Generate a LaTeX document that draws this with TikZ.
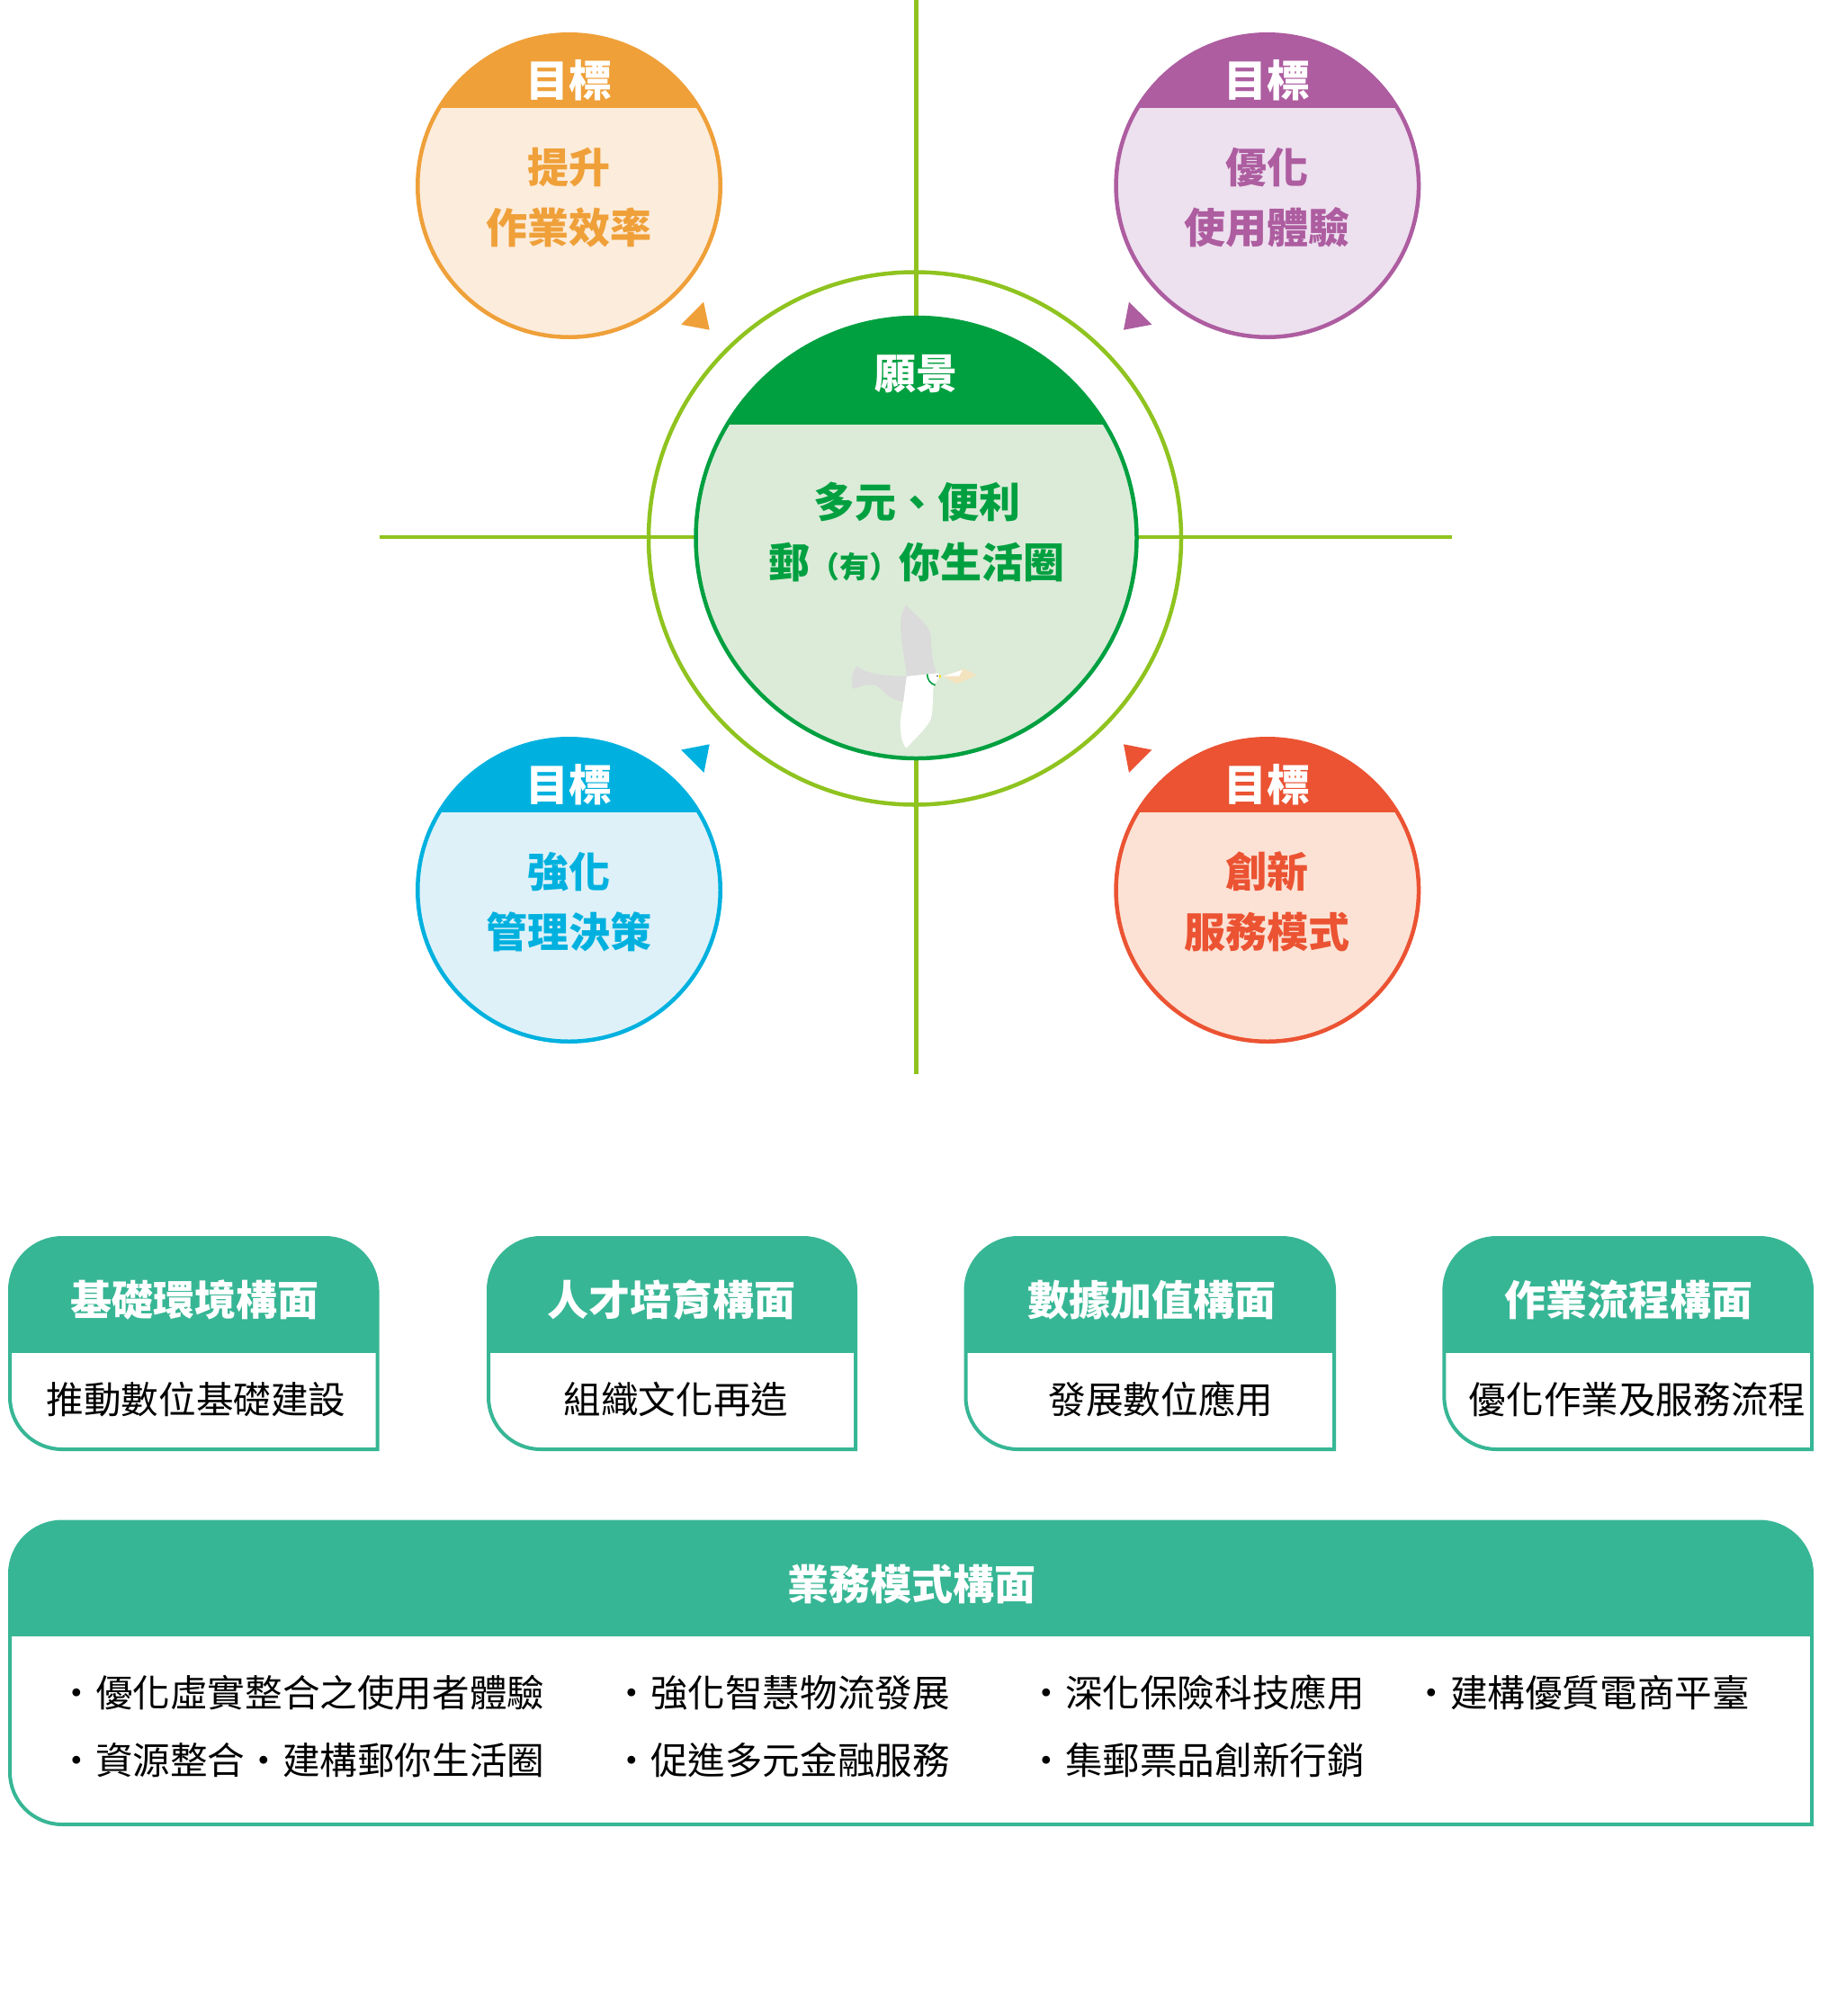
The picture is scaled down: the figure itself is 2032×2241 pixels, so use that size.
\documentclass[tikz,border=0pt]{standalone}
\usepackage{fontspec}
\setmainfont{Noto Sans CJK TC}
\definecolor{cOrange}{HTML}{EFA039}\definecolor{lOrange}{HTML}{FCECDB}
\definecolor{cPurple}{HTML}{AD5DA0}\definecolor{lPurple}{HTML}{EDE0EF}
\definecolor{cBlue}{HTML}{00B1DF}\definecolor{lBlue}{HTML}{DEF1F9}
\definecolor{cRed}{HTML}{EB5333}\definecolor{lRed}{HTML}{FCE2D4}
\definecolor{cGreen}{HTML}{00A040}\definecolor{lGreen}{HTML}{DBEBD8}
\definecolor{cTeal}{HTML}{37B695}\definecolor{cRing}{HTML}{8FC31F}
\definecolor{cEnv}{HTML}{F3E3BF}
\tikzset{
  big/.style={inner sep=0pt,outer sep=0pt,font=\fontsize{46}{46}\selectfont\bfseries,text height=40.5pt,text depth=5.5pt},
  goalhead/.style={inner sep=0pt,outer sep=0pt,font=\fontsize{48}{48}\selectfont\bfseries,text height=42.2pt,text depth=5.8pt},
  plain/.style={inner sep=0pt,outer sep=0pt,font=\fontsize{41.6}{42}\selectfont,text=black,text height=36.6pt,text depth=5pt},
  axis/.style={cRing,line width=4.5pt},
  frame/.style={cTeal,line width=4pt}
}
% name, cx, cy, dark, light, line 1, line 2
\newcommand\goalcircle[7]{%
  \fill[#5] (#2,#3) circle[radius=168.25];
  \begin{scope}
    \clip (#2,#3) circle[radius=168.25];
    \fill[#4] (#2-170,#3-170) rectangle (#2+170,#3-86.5);
  \end{scope}
  \draw[#4,line width=4.5pt] (#2,#3) circle[radius=168.25];
  \node[goalhead,text=white] (#1h) at (#2,#3-117.5) {目標};
  \node[big,text=#4] (#1a) at (#2,#3-21) {#6};
  \node[big,text=#4] (#1b) at (#2,#3+46) {#7};
}
% name, x1, x2, y1, ymid, y2
\newcommand\boxpath[6]{%
  \begin{scope}
    \clip[rounded corners=58pt] (#3,#6) -- (#2,#6) -- (#2,#4) -- (#3,#4) [sharp corners] -- (#3,#6) -- cycle;
    \fill[cTeal] (#2-3,#4-3) rectangle (#3+3,#5);
  \end{scope}
  \draw[frame,line join=miter,rounded corners=58pt] (#3,#6) -- (#2,#6) -- (#2,#4) -- (#3,#4) [sharp corners] -- (#3,#6) -- cycle;
}
\begin{document}
\begin{tikzpicture}[x=1pt,y=-1pt]
\useasboundingbox (0,0) rectangle (2032,2241);
% axes
\coordinate (axT) at (1018.3,0);
\coordinate (axB) at (1018.3,1194);
\coordinate (axL) at (421.7,597);
\coordinate (axR) at (1613.7,597);
\draw[axis] (axT) -- (axB);
\draw[axis] (axL) -- (axR);
% ring and vision circle
\draw[cRing,line width=4.5pt] (1017,598.5) circle[radius=296];
\fill[lGreen] (1018.5,598) circle[radius=245];
\begin{scope}
  \clip (1018.5,598) circle[radius=245];
  \fill[cGreen] (770,345) rectangle (1270,471.5);
\end{scope}
\draw[cGreen,line width=4.5pt] (1018.5,598) circle[radius=245];
\node[big,text=white] (vision) at (1018.5,414.7) {願景};
\node[big,text=cGreen] (visionA) at (1019.6,557.8) {多元、便利};
\node[big,text=cGreen] (visionB) at (1019,625) {郵{\fontsize{33}{33}\selectfont （有）}你生活圈};
% bird
\begin{scope}[shift={(930,660)},x=0.3333pt,y=-0.3333pt]
  \fill[white] (233,275) -- (300,268) -- (335,264) -- (345,272) .. controls (338,290) and (330,298) .. (323,305)
     .. controls (320,340) and (322,390) .. (315,415) .. controls (308,440) and (265,480) .. (232,515)
     .. controls (215,495) and (212,460) .. (213,425) .. controls (214,400) and (220,380) .. (222,360) -- cycle;
  \fill[black!14] (232,38) .. controls (255,65) and (300,95) .. (312,130) .. controls (320,170) and (310,210) .. (335,265)
     -- (300,268) -- (233,275) .. controls (228,220) and (213,150) .. (213,105) .. controls (213,80) and (220,50) .. (232,38) -- cycle;
  \fill[black!14] (68,242) .. controls (90,262) and (150,276) .. (233,275) -- (222,360)
     .. controls (185,355) and (165,335) .. (145,315) .. controls (125,295) and (90,305) .. (54,318)
     .. controls (48,290) and (50,260) .. (68,242) -- cycle;
  \draw[cGreen,line width=1.6pt] (302,268) .. controls (302,285) and (312,300) .. (329,305);
  \fill[yellow!80!orange] (342,269) -- (349,276) -- (342,282) -- cycle;
  \fill[black] (336,274) circle[radius=2.5];
  \fill[cEnv] (355,275) -- (424,250) -- (468,272) -- (400,301) -- cycle;
  \fill[white] (355,275) -- (420,254) -- (408,275) -- cycle;
\end{scope}
% goal circles
\goalcircle{goalA}{632.5}{206.5}{cOrange}{lOrange}{提升}{作業效率}
\goalcircle{goalB}{1408.8}{206.5}{cPurple}{lPurple}{優化}{使用體驗}
\goalcircle{goalC}{632.5}{989.5}{cBlue}{lBlue}{強化}{管理決策}
\goalcircle{goalD}{1408.8}{989.5}{cRed}{lRed}{創新}{服務模式}
% triangles
\fill[cOrange] (757.2,360.8) -- (782.1,335.6) -- (788.7,366.7) -- cycle;
\fill[cPurple] (1255,335.6) -- (1280.4,360.8) -- (1249,366.7) -- cycle;
\fill[cBlue] (757.2,833.5) -- (788.7,827.3) -- (782.5,858.8) -- cycle;
\fill[cRed] (1249,827.3) -- (1280.4,833.5) -- (1255,858.8) -- cycle;
% aspect boxes
\boxpath{b1}{11}{419.5}{1376}{1504}{1611}
\boxpath{b2}{543}{951}{1376}{1504}{1611}
\boxpath{b3}{1073.5}{1483}{1376}{1504}{1611}
\boxpath{b4}{1605.4}{2014}{1376}{1504}{1611}
\boxpath{b5}{11}{2014}{1691.5}{1819}{2028}
\node[big,text=white] (b1h) at (216,1445) {基礎環境構面};
\node[big,text=white] (b2h) at (746.5,1445) {人才培育構面};
\node[big,text=white] (b3h) at (1280,1445) {數據加值構面};
\node[big,text=white] (b4h) at (1810.5,1445) {作業流程構面};
\node[plain] (b1t) at (218,1555.5) {推動數位基礎建設};
\node[plain] (b2t) at (751.5,1555.5) {組織文化再造};
\node[plain] (b3t) at (1290.5,1555.5) {發展數位應用};
\node[plain] (b4t) at (1820,1555.5) {優化作業及服務流程};
\node[big,text=white] (b5h) at (1013,1761) {業務模式構面};
\node[plain,anchor=base west] (i1) at (64.5,1897.5) {・優化虛實整合之使用者體驗};
\node[plain,anchor=base west] (i2) at (64.5,1972.5) {・資源整合・建構郵你生活圈};
\node[plain,anchor=base west] (i3) at (681.5,1897.5) {・強化智慧物流發展};
\node[plain,anchor=base west] (i4) at (681.5,1972.5) {・促進多元金融服務};
\node[plain,anchor=base west] (i5) at (1142.5,1897.5) {・深化保險科技應用};
\node[plain,anchor=base west] (i6) at (1142.5,1972.5) {・集郵票品創新行銷};
\node[plain,anchor=base west] (i7) at (1570.5,1897.5) {・建構優質電商平臺};
\end{tikzpicture}
\end{document}
